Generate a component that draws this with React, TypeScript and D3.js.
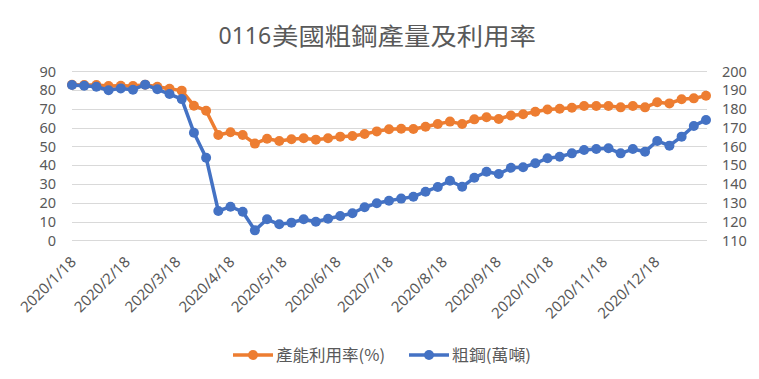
import React, { useEffect, useRef } from "react";
import * as d3 from "d3";

const TITLE_NUM = "0116";
const TITLE_CJK = "美國粗鋼產量及利用率";
const SERIES_NAMES = ["產能利用率(%)", "粗鋼(萬噸)"];

const dates = [
  "2020-01-18", "2020-01-25", "2020-02-01", "2020-02-08", "2020-02-15", "2020-02-22", "2020-02-29",
  "2020-03-07", "2020-03-14", "2020-03-21", "2020-03-28", "2020-04-04", "2020-04-11", "2020-04-18",
  "2020-04-25", "2020-05-02", "2020-05-09", "2020-05-16", "2020-05-23", "2020-05-30", "2020-06-06",
  "2020-06-13", "2020-06-20", "2020-06-27", "2020-07-04", "2020-07-11", "2020-07-18", "2020-07-25",
  "2020-08-01", "2020-08-08", "2020-08-15", "2020-08-22", "2020-08-29", "2020-09-05", "2020-09-12",
  "2020-09-19", "2020-09-26", "2020-10-03", "2020-10-10", "2020-10-17", "2020-10-24", "2020-10-31",
  "2020-11-07", "2020-11-14", "2020-11-21", "2020-11-28", "2020-12-05", "2020-12-12", "2020-12-19",
  "2020-12-26", "2021-01-02", "2021-01-09", "2021-01-16",
];

const utilization = [
  82.8, 82.7, 82.7, 82.2, 82.3, 82.2, 82.9, 81.8, 80.7, 79.7, 71.7, 69.0, 56.1, 57.5, 56.1, 51.5,
  54.1, 52.9, 53.8, 54.3, 53.6, 54.3, 55.2, 55.5, 56.6, 58.0, 59.1, 59.4, 59.3, 60.5, 61.9, 63.2,
  61.9, 64.4, 65.5, 64.6, 66.5,
  67.1, 68.5, 69.7, 70.1, 70.6, 71.5, 71.5, 71.5, 70.8, 71.5, 70.8, 73.5, 72.9, 75.1, 75.6, 77.0,
];

const crudeSteel = [
  192.7, 192.3, 191.8, 189.9, 190.9, 190.2, 192.9, 190.4, 187.9, 185.2, 167.3, 154.0, 125.6, 127.9,
  125.2, 115.3,
  121.2, 118.5, 119.4, 121.2, 119.9, 121.5, 122.9, 124.4, 127.6, 129.7, 131.1, 132.2, 133.2, 135.9,
  138.4, 141.7, 138.5, 143.3, 146.5, 145.3, 148.6,
  148.9, 151.0, 153.7, 154.5, 156.3, 158.1, 158.6, 159.0, 156.3, 158.6, 157.2, 162.9, 160.4, 165.2,
  170.9, 174.1,
];

const xTickLabels = [
  "2020/1/18", "2020/2/18", "2020/3/18", "2020/4/18", "2020/5/18", "2020/6/18",
  "2020/7/18", "2020/8/18", "2020/9/18", "2020/10/18", "2020/11/18", "2020/12/18",
];
const leftTicks = [0, 10, 20, 30, 40, 50, 60, 70, 80, 90];
const rightTicks = [110, 120, 130, 140, 150, 160, 170, 180, 190, 200];

const W = 759;
const H = 379;
const FONT = "'Noto Sans', 'Noto Sans CJK TC', sans-serif";
const CJK = "'Noto Sans CJK TC', 'Noto Sans', sans-serif";
const TEXT = "#595959";
const ORANGE = "#ED7D31";
const BLUE = "#4472C4";
const GRID = "#D9D9D9";

export default function App() {
  const ref = useRef<SVGSVGElement>(null);

  useEffect(() => {
    const svg = d3.select(ref.current);
    svg.selectAll("*").remove();

    const parse = d3.utcParse("%Y-%m-%d");
    const pDates = dates.map((d) => parse(d) as Date);
    const labelParse = d3.utcParse("%Y/%m/%d");

    const x = d3.scaleUtc().domain([pDates[0], pDates[pDates.length - 1]]).range([72, 706]);
    const yL = d3.scaleLinear().domain([0, 90]).range([240.3, 71.3]);
    const yR = d3.scaleLinear().domain([110, 200]).range([240.3, 71.3]);

    svg.append("rect").attr("width", W).attr("height", H).attr("fill", "#fff");

    // title
    svg
      .append("text")
      .attr("x", 218.5)
      .attr("y", 44)
      .attr("fill", TEXT)
      .attr("font-family", FONT)
      .attr("font-size", 23)
      .text(TITLE_NUM);
    svg
      .append("text")
      .attr("x", 272)
      .attr("y", 44.5)
      .attr("fill", TEXT)
      .attr("font-family", CJK)
      .attr("font-size", 24)
      .attr("textLength", 264)
      .attr("lengthAdjust", "spacingAndGlyphs")
      .text(TITLE_CJK);

    // gridlines
    svg
      .append("g")
      .selectAll("line")
      .data(leftTicks)
      .join("line")
      .attr("x1", 72)
      .attr("x2", 707)
      .attr("y1", (d) => Math.round(yL(d)) + 0.5)
      .attr("y2", (d) => Math.round(yL(d)) + 0.5)
      .attr("stroke", GRID)
      .attr("stroke-width", 1);

    // left axis labels
    svg
      .append("g")
      .selectAll("text")
      .data(leftTicks)
      .join("text")
      .attr("x", 56)
      .attr("y", (d) => yL(d))
      .attr("dy", "0.36em")
      .attr("text-anchor", "end")
      .attr("font-family", FONT)
      .attr("font-size", 14.5)
      .attr("fill", TEXT)
      .text((d) => String(d));

    // right axis labels
    svg
      .append("g")
      .selectAll("text")
      .data(rightTicks)
      .join("text")
      .attr("x", 722)
      .attr("y", (d) => yR(d))
      .attr("dy", "0.36em")
      .attr("text-anchor", "start")
      .attr("font-family", FONT)
      .attr("font-size", 14.5)
      .attr("fill", TEXT)
      .text((d) => String(d));

    // x labels
    svg
      .append("g")
      .selectAll("text")
      .data(xTickLabels)
      .join("text")
      .attr("transform", (d) => {
        const px = x(labelParse(d) as Date);
        return `translate(${px + 5},${263}) rotate(-45)`;
      })
      .attr("text-anchor", "end")
      .attr("font-family", FONT)
      .attr("font-size", 15)
      .attr("fill", TEXT)
      .text((d) => d);

    const drawSeries = (vals: number[], y: d3.ScaleLinear<number, number>, color: string) => {
      const data = vals.map((v, i) => ({ d: pDates[i], v }));
      const line = d3
        .line<{ d: Date; v: number }>()
        .x((p) => x(p.d))
        .y((p) => y(p.v));
      const g = svg.append("g");
      g.append("path")
        .datum(data)
        .attr("d", line)
        .attr("fill", "none")
        .attr("stroke", color)
        .attr("stroke-width", 3.5)
        .attr("stroke-linejoin", "round");
      g.selectAll("circle")
        .data(data)
        .join("circle")
        .attr("cx", (p) => x(p.d))
        .attr("cy", (p) => y(p.v))
        .attr("r", 5)
        .attr("fill", color);
    };

    drawSeries(utilization, yL, ORANGE);
    drawSeries(crudeSteel, yR, BLUE);

    // legend
    const legend = [
      { name: SERIES_NAMES[0], color: ORANGE, x0: 233, len: 109 },
      { name: SERIES_NAMES[1], color: BLUE, x0: 409, len: 79 },
    ];
    const lg = svg.append("g");
    legend.forEach((l) => {
      lg.append("line")
        .attr("x1", l.x0)
        .attr("x2", l.x0 + 40)
        .attr("y1", 355)
        .attr("y2", 355)
        .attr("stroke", l.color)
        .attr("stroke-width", 3.5);
      lg.append("circle").attr("cx", l.x0 + 20).attr("cy", 355).attr("r", 5).attr("fill", l.color);
      lg.append("text")
        .attr("x", l.x0 + 43)
        .attr("y", 355)
        .attr("dy", "0.36em")
        .attr("font-family", CJK)
        .attr("font-size", 16)
        .attr("textLength", l.len)
        .attr("lengthAdjust", "spacingAndGlyphs")
        .attr("fill", TEXT)
        .text(l.name);
    });
  }, []);

  return (
    <svg
      ref={ref}
      width={W}
      height={H}
      style={{ position: "absolute", left: 0, top: 0, display: "block" }}
    />
  );
}
